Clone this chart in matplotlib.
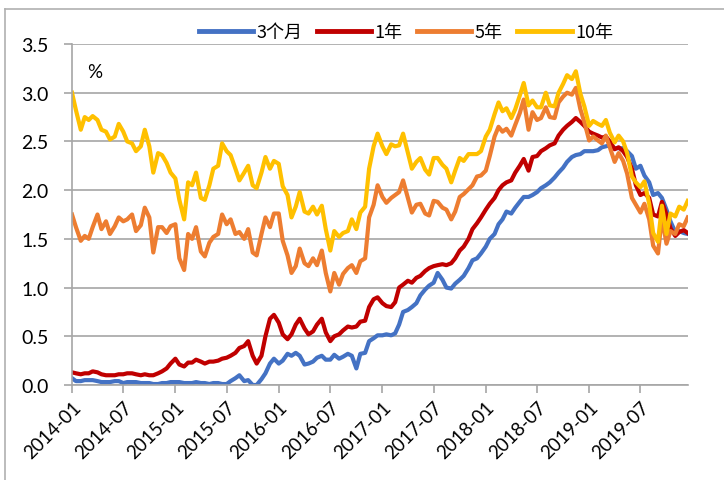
import matplotlib
matplotlib.use("Agg")
import matplotlib.pyplot as plt
from matplotlib.lines import Line2D
import matplotlib.transforms as mtransforms
import pandas as pd
import numpy as np

# semi-monthly observations (1st and 15th), 2014-01 .. 2019-12
dates = pd.date_range("2014-01-01", "2019-12-15", freq="SMS")

y3m = [
    0.07, 0.04, 0.04, 0.05, 0.05, 0.05, 0.04, 0.03, 0.03, 0.03, 0.04, 0.04,
    0.02, 0.03, 0.03, 0.03, 0.02, 0.02, 0.02, 0.01, 0.01, 0.02, 0.02, 0.03,
    0.03, 0.03, 0.02, 0.02, 0.02, 0.03, 0.02, 0.02, 0.01, 0.02, 0.02, 0.01,
    0.01, 0.04, 0.07, 0.10, 0.04, 0.05, 0.00, 0.00, 0.06, 0.12, 0.22, 0.27,
    0.22, 0.25, 0.32, 0.30, 0.33, 0.30, 0.21, 0.22, 0.24, 0.28, 0.30, 0.26,
    0.26, 0.31, 0.27, 0.29, 0.32, 0.30, 0.17, 0.32, 0.33, 0.45, 0.48, 0.51,
    0.51, 0.52, 0.51, 0.53, 0.62, 0.75, 0.77, 0.80, 0.84, 0.92, 0.98, 1.02,
    1.05, 1.15, 1.08, 1.00, 0.99, 1.04, 1.08, 1.12, 1.20, 1.28, 1.30, 1.35,
    1.42, 1.50, 1.55, 1.65, 1.70, 1.78, 1.76, 1.82, 1.88, 1.93, 1.93, 1.95,
    1.98, 2.02, 2.05, 2.08, 2.13, 2.18, 2.23, 2.29, 2.34, 2.36, 2.37, 2.40,
    2.40, 2.40, 2.41, 2.44, 2.45, 2.46, 2.43, 2.43, 2.43, 2.40, 2.35, 2.22,
    2.25, 2.15, 2.08, 1.95, 1.97, 1.92, 1.80, 1.68, 1.57, 1.58, 1.56, 1.55,
]

y1y = [
    0.13, 0.12, 0.11, 0.12, 0.12, 0.14, 0.13, 0.11, 0.10, 0.10, 0.10, 0.11,
    0.11, 0.12, 0.12, 0.11, 0.10, 0.11, 0.10, 0.10, 0.12, 0.14, 0.17, 0.22,
    0.27, 0.21, 0.19, 0.23, 0.23, 0.26, 0.24, 0.22, 0.24, 0.24, 0.25, 0.27,
    0.28, 0.30, 0.33, 0.38, 0.40, 0.45, 0.30, 0.22, 0.30, 0.50, 0.68, 0.72,
    0.64, 0.52, 0.47, 0.52, 0.62, 0.68, 0.58, 0.52, 0.55, 0.62, 0.68, 0.54,
    0.45, 0.50, 0.52, 0.56, 0.60, 0.59, 0.60, 0.65, 0.66, 0.80, 0.88, 0.90,
    0.84, 0.81, 0.80, 0.85, 1.00, 1.03, 1.07, 1.05, 1.10, 1.12, 1.17, 1.20,
    1.22, 1.23, 1.24, 1.23, 1.25, 1.30, 1.38, 1.42, 1.50, 1.60, 1.66, 1.72,
    1.80, 1.86, 1.92, 2.00, 2.05, 2.08, 2.10, 2.18, 2.25, 2.32, 2.20, 2.34,
    2.35, 2.40, 2.43, 2.46, 2.48, 2.56, 2.62, 2.66, 2.70, 2.74, 2.70, 2.66,
    2.60, 2.58, 2.56, 2.54, 2.55, 2.50, 2.42, 2.44, 2.40, 2.34, 2.22, 2.05,
    1.95, 1.97, 1.92, 1.75, 1.73, 1.88, 1.75, 1.61, 1.53, 1.57, 1.59, 1.56,
]

y5y = [
    1.75, 1.62, 1.48, 1.53, 1.50, 1.62, 1.75, 1.60, 1.68, 1.55, 1.63, 1.72,
    1.68, 1.70, 1.75, 1.58, 1.64, 1.82, 1.72, 1.36, 1.62, 1.62, 1.56, 1.63,
    1.65, 1.30, 1.18, 1.55, 1.50, 1.62, 1.37, 1.32, 1.46, 1.52, 1.55, 1.75,
    1.65, 1.70, 1.55, 1.57, 1.50, 1.60, 1.36, 1.33, 1.55, 1.72, 1.62, 1.76,
    1.76, 1.48, 1.33, 1.15, 1.22, 1.40, 1.25, 1.22, 1.30, 1.23, 1.38, 1.15,
    0.96, 1.15, 1.03, 1.14, 1.20, 1.23, 1.15, 1.27, 1.30, 1.72, 1.85, 2.05,
    1.93, 1.87, 1.92, 1.95, 1.98, 2.10, 1.92, 1.77, 1.85, 1.86, 1.76, 1.74,
    1.89, 1.88, 1.82, 1.80, 1.70, 1.78, 1.93, 1.96, 2.01, 2.05, 2.14, 2.15,
    2.20, 2.35, 2.55, 2.65, 2.60, 2.63, 2.56, 2.67, 2.79, 2.93, 2.62, 2.80,
    2.72, 2.74, 2.85, 2.75, 2.74, 2.90, 2.96, 3.00, 2.98, 3.05, 2.83, 2.70,
    2.51, 2.55, 2.51, 2.48, 2.56, 2.44, 2.29, 2.38, 2.30, 2.17, 1.92, 1.85,
    1.77, 1.86, 1.70, 1.43, 1.35, 1.72, 1.45, 1.58, 1.55, 1.65, 1.63, 1.72,
]

y10y = [
    3.00, 2.82, 2.62, 2.75, 2.72, 2.76, 2.72, 2.62, 2.60, 2.52, 2.55, 2.68,
    2.60, 2.50, 2.48, 2.40, 2.45, 2.62, 2.45, 2.18, 2.38, 2.36, 2.28, 2.18,
    2.12, 1.90, 1.70, 2.08, 2.05, 2.18, 1.92, 1.90, 2.05, 2.22, 2.25, 2.48,
    2.40, 2.36, 2.22, 2.10, 2.18, 2.25, 2.05, 2.02, 2.18, 2.34, 2.22, 2.30,
    2.27, 2.04, 1.95, 1.72, 1.83, 1.98, 1.78, 1.76, 1.83, 1.75, 1.84, 1.60,
    1.38, 1.58, 1.52, 1.56, 1.58, 1.70, 1.60, 1.77, 1.83, 2.22, 2.45, 2.58,
    2.45, 2.37, 2.47, 2.45, 2.46, 2.58, 2.38, 2.22, 2.29, 2.33, 2.21, 2.16,
    2.33, 2.33, 2.26, 2.22, 2.08, 2.20, 2.33, 2.30, 2.37, 2.37, 2.37, 2.40,
    2.55, 2.62, 2.78, 2.90, 2.81, 2.84, 2.74, 2.83, 2.97, 3.10, 2.87, 2.92,
    2.85, 2.85, 3.00, 2.87, 2.86, 3.00, 3.09, 3.18, 3.14, 3.22, 2.99, 2.86,
    2.66, 2.71, 2.68, 2.66, 2.72, 2.59, 2.49, 2.56, 2.50, 2.38, 2.14, 2.08,
    2.03, 2.09, 1.86, 1.56, 1.47, 1.84, 1.55, 1.76, 1.73, 1.83, 1.80, 1.89,
]

series_names = ["3个月", "1年", "5年", "10年"]
series_values = [y3m, y1y, y5y, y10y]
colors = ["#4472C4", "#C00000", "#ED7D31", "#FFC000"]

tick_dates = pd.date_range("2014-01-01", "2019-07-01", freq="6MS")
tick_labels = [d.strftime("%Y-%m") for d in tick_dates]

W, H = 724, 481
fig = plt.figure(figsize=(W / 100, H / 100), dpi=100)
ax = fig.add_axes([72 / W, 1 - 386 / H, (688 - 72) / W, (386 - 45) / H])

for name, vals, c in zip(series_names, series_values, colors):
    ax.plot(dates, vals, color=c, lw=3, label=name, solid_joinstyle="round")

ax.set_xlim(pd.Timestamp("2014-01-01"), pd.Timestamp("2019-12-16"))
ax.set_ylim(0, 3.5)
ax.set_yticks(np.arange(0, 3.51, 0.5))
ax.yaxis.set_major_formatter(matplotlib.ticker.FormatStrFormatter("%.1f"))
ax.grid(axis="y", color="#a6a6a6", lw=1.2)
ax.set_axisbelow(True)

ax.set_xticks(tick_dates)
ax.set_xticklabels(tick_labels, rotation=45, ha="right", va="top",
                   rotation_mode="anchor", fontsize=13.5, family="Lato")
offset = mtransforms.ScaledTranslation(7 / 100, -1 / 100, fig.dpi_scale_trans)
for lab in ax.get_xticklabels():
    lab.set_transform(lab.get_transform() + offset)

for lab in ax.get_yticklabels():
    lab.set_fontsize(14)
    lab.set_family("Lato")

ax.tick_params(axis="both", direction="out", length=6, color="#a6a6a6", width=1.2)
ax.tick_params(axis="y", pad=11)
for s in ["top", "right"]:
    ax.spines[s].set_visible(False)
for s in ["left", "bottom"]:
    ax.spines[s].set_color("#a6a6a6")
    ax.spines[s].set_linewidth(1.2)

fig.text(95 / W, 1 - 72 / H, "%", fontsize=13.5, family="Lato", ha="center", va="center")

handles = [Line2D([], [], color=c, lw=3.5) for c in colors]
fig.legend(handles, series_names, loc="center", ncol=4,
           bbox_to_anchor=(406 / W, 1 - 33 / H), frameon=False,
           prop={"family": ["Noto Sans CJK SC", "DejaVu Sans"], "size": 13},
           handlelength=3.0, handletextpad=0.2, columnspacing=0.8)

# outer light border (top and left edges visible)
fig.add_artist(Line2D([5 / W, 1], [1 - 10 / H, 1 - 10 / H], transform=fig.transFigure,
                      color="#b0b0b0", lw=1.2))
fig.add_artist(Line2D([5 / W, 5 / W], [0, 1 - 10 / H], transform=fig.transFigure,
                      color="#b0b0b0", lw=1.2))

fig.savefig("out.png", dpi=100)
